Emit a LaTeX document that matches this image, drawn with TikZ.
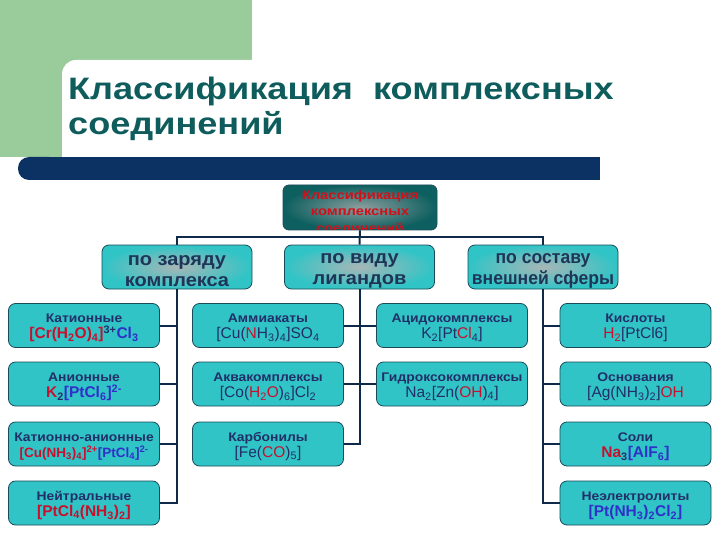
\documentclass[tikz,border=0pt]{standalone}
\usepackage{graphicx}
\usepackage{fontspec}
\setmainfont{Liberation Sans}
\definecolor{greenbg}{HTML}{9ACB9A}
\definecolor{barc}{HTML}{0B3263}
\definecolor{titlec}{HTML}{0E5C5C}
\definecolor{linec}{HTML}{0F2A48}
\definecolor{bordc}{HTML}{1A4B5A}
\definecolor{turq}{HTML}{30C4C6}
\definecolor{turqc}{HTML}{A8B6B6}
\definecolor{topout}{HTML}{0E6060}
\definecolor{topin}{HTML}{8E9E9E}
\definecolor{nv}{HTML}{1E3558}
\definecolor{fnv}{HTML}{222E68}
\definecolor{rd}{HTML}{C8102E}
\definecolor{bl}{HTML}{3030C8}
\definecolor{topred}{HTML}{D0101A}
\newcommand{\mysub}[1]{\textsubscript{#1}}
\newcommand{\mysup}[1]{\textsuperscript{#1}}
\newcommand{\ttl}[1]{\rule{0pt}{14pt}{\bfseries\fontsize{12.5}{16}\selectfont\scalebox{1.11}[1]{#1}}}
\newcommand{\fml}[1]{{\fontsize{15.5}{16}\selectfont #1}}
\newcommand{\widetxt}[1]{\scalebox{1.08}[1]{#1}}
\newcommand{\narrowtxt}[1]{\scalebox{0.95}[1]{#1}}
\begin{document}
\begin{tikzpicture}[x=1pt,y=-1pt,
  conn/.style={draw=linec, line width=2pt},
  lvtwo/.style={draw=bordc, line width=0.8pt, rounded corners=7pt,
    outer color=turq, inner color=turqc, minimum width=150pt, minimum height=44pt,
    inner sep=0pt, align=center, text=nv,
    font=\bfseries\fontsize{18.5}{21}\selectfont},
  lvthree/.style={draw=bordc, line width=0.8pt, rounded corners=7pt,
    fill=turq, minimum width=151pt, minimum height=44pt,
    inner sep=0pt, align=center, text=fnv, font=\fontsize{12}{16}\selectfont}]
\useasboundingbox (0,0) rectangle (720,540);
\fill[white] (0,0) rectangle (720,540);
\fill[greenbg] (0,0) rectangle (252,157);
\fill[white] (62,200) {[rounded corners=14pt] -- (62,60) -- (730,60)} -- (730,200) -- cycle;
\fill[barc] (30,157) rectangle (600,180);
\fill[barc, rounded corners=11pt] (18,157) rectangle (60,180);
\node[anchor=base west, font=\bfseries\fontsize{31}{36}\selectfont, text=titlec, inner sep=0pt] (title1) at (68,100) {\scalebox{1.165}[1]{Классификация\ \ комплексных}};
\node[anchor=base west, font=\bfseries\fontsize{31}{36}\selectfont, text=titlec, inner sep=0pt] (title2) at (68,135) {\scalebox{1.165}[1]{соединений}};
% top box
\node[draw=bordc, line width=0.8pt, rounded corners=6pt, outer color=topout, inner color=topin,
  minimum width=154pt, minimum height=45pt, inner sep=0pt] (top) at (360,207.5) {};
\begin{scope}
\clip (284,186) rectangle (436,229.5);
\node[align=center, text=topred, font=\bfseries\fontsize{12.5}{16.5}\selectfont, anchor=north, inner sep=0pt] (toptext) at (360,190) {\scalebox{1.18}[1]{Классификация}\\\scalebox{1.18}[1]{комплексных}\\\scalebox{1.18}[1]{соединений}};
\end{scope}
% level 2
\node[lvtwo] (ka) at (177,267) {\rule{0pt}{18pt}\widetxt{по заряду}\\\widetxt{комплекса}};
\node[lvtwo] (kb) at (359.5,267) {\rule{0pt}{18pt}\widetxt{по виду}\\\widetxt{лигандов}};
\node[lvtwo] (kc) at (543,267) {\rule{0pt}{18pt}\narrowtxt{по составу}\\\narrowtxt{внешней сферы}};
% level 3
\node[lvthree] (a1) at (84,325.5) {\ttl{Катионные}\\\fml{\bfseries\textcolor{rd}{[Cr(H\mysub{2}O)\mysub{4}]}\mysup{3+}\textcolor{bl}{Cl\mysub{3}}}};
\node[lvthree] (a2) at (84,384) {\ttl{Анионные}\\\fml{\bfseries\textcolor{rd}{K}\mysub{2}\textcolor{bl}{[PtCl\mysub{6}]\mysup{2-}}}};
\node[lvthree] (a3) at (84,444) {\ttl{Катионно-анионные}\\\fml{\fontsize{13.5}{15}\selectfont\bfseries\textcolor{rd}{[Cu(NH\mysub{3})\mysub{4}]\mysup{2+}}\textcolor{bl}{[PtCl\mysub{4}]\mysup{2-}}}};
\node[lvthree] (a4) at (84,503) {\ttl{Нейтральные}\\\fml{\bfseries\textcolor{rd}{[PtCl\mysub{4}(NH\mysub{3})\mysub{2}]}}};
\node[lvthree] (b1) at (268,325.5) {\ttl{Аммиакаты}\\\fml{[Cu(\textcolor{rd}{N}H\mysub{3})\mysub{4}]SO\mysub{4}}};
\node[lvthree] (b2) at (268,384) {\ttl{Аквакомплексы}\\\fml{[Co(\textcolor{rd}{H\mysub{2}O})\mysub{6}]Cl\mysub{2}}};
\node[lvthree] (b3) at (268,444) {\ttl{Карбонилы}\\\fml{[Fe(\textcolor{rd}{CO})\mysub{5}]}};
\node[lvthree] (c1) at (452,325.5) {\ttl{Ацидокомплексы}\\\fml{K\mysub{2}[Pt\textcolor{rd}{Cl}\mysub{4}]}};
\node[lvthree] (c2) at (452,384) {\ttl{Гидроксокомплексы}\\\fml{Na\mysub{2}[Zn(\textcolor{rd}{OH})\mysub{4}]}};
\node[lvthree] (d1) at (635.5,325.5) {\ttl{Кислоты}\\\fml{\textcolor{rd}{H\mysub{2}}[PtCl6]}};
\node[lvthree] (d2) at (635.5,384) {\ttl{Основания}\\\fml{[Ag(NH\mysub{3})\mysub{2}]\textcolor{rd}{OH}}};
\node[lvthree] (d3) at (635.5,444) {\ttl{Соли}\\\fml{\bfseries\textcolor{rd}{Na}\mysub{3}\textcolor{bl}{[AlF\mysub{6}]}}};
\node[lvthree] (d4) at (635.5,503) {\ttl{Неэлектролиты}\\\fml{\bfseries\textcolor{bl}{[Pt(NH\mysub{3})\mysub{2}Cl\mysub{2}]}}};
% connectors
\coordinate (hb) at (360,237);
\draw[conn] (top.south) -- (kb.north);
\draw[conn] (ka.north) -- (ka.north |- hb) -- (kc.north |- hb) -- (kc.north);
\draw[conn] (ka.south) |- (a4.east);
\foreach \n in {a1,a2,a3} \draw[conn] (\n.east) -- (\n.east -| ka.south);
\draw[conn] (kb.south) |- (b3.east);
\foreach \n in {b1,b2} \draw[conn] (\n.east) -- (\n.east -| kb.south);
\foreach \n in {c1,c2} \draw[conn] (\n.west) -- (\n.west -| kb.south);
\draw[conn] (kc.south) |- (d4.west);
\foreach \n in {d1,d2,d3} \draw[conn] (\n.west) -- (\n.west -| kc.south);
\end{tikzpicture}
\end{document}
